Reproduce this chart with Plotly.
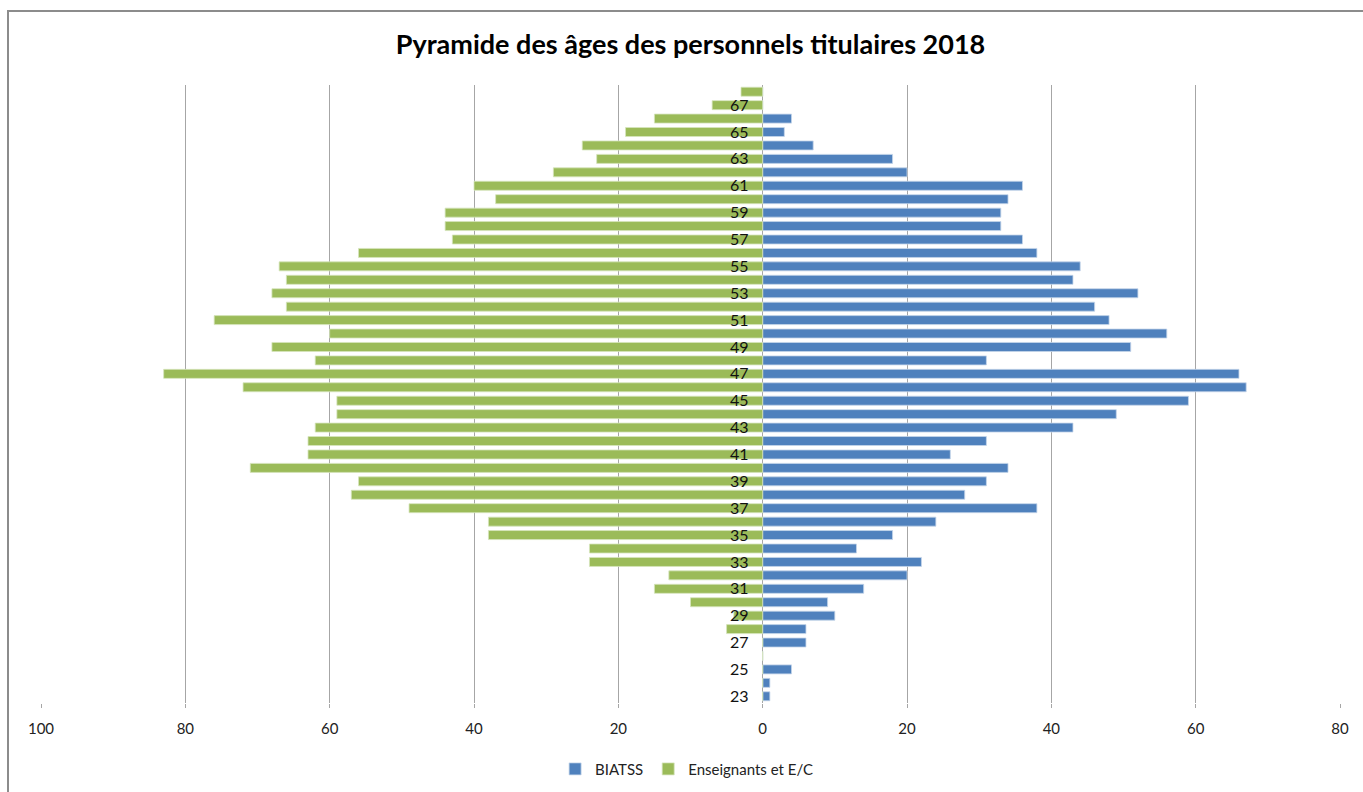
import plotly.graph_objects as go

# Age categories (one bar per age, 23 to 68)
ages = list(range(23, 69))

# Staff counts per age, BIATSS (right side)
biatss = [1, 1, 4, 0, 6, 6, 10, 9, 14, 20, 22, 13, 18, 24, 38, 28, 31, 34, 26, 31,
          43, 49, 59, 67, 66, 31, 51, 56, 48, 46, 52, 43, 44, 38, 36, 33, 33, 34,
          36, 20, 18, 7, 3, 4, 0, 0]

# Staff counts per age, teachers and teacher-researchers (left side)
enseignants = [0, 0, 0, 0, 0, 5, 4, 10, 15, 13, 24, 24, 38, 38, 49, 57, 56, 71, 63, 63,
               62, 59, 59, 72, 83, 62, 68, 60, 76, 66, 68, 66, 67, 56, 43, 44, 44, 37,
               40, 29, 23, 25, 19, 15, 7, 3]

# Axis labels
x_tick_vals = [-100, -80, -60, -40, -20, 0, 20, 40, 60, 80]
x_tick_text = [str(abs(v)) for v in x_tick_vals]
y_tick_vals = [a for a in ages if a % 2 == 1]

BLUE = "#4F81BD"
GREEN = "#9BBB59"
FONT = "Lato, 'Open Sans', sans-serif"

fig = go.Figure()
fig.add_trace(go.Bar(
    y=ages, x=biatss, orientation="h", name="BIATSS",
    marker=dict(color=BLUE, line=dict(color="#C5D5EA", width=0.8)),
    width=0.67,
))
fig.add_trace(go.Bar(
    y=ages, x=[-v for v in enseignants], orientation="h", name="Enseignants et E/C",
    marker=dict(color=GREEN, line=dict(color="#D6E4BC", width=0.8)),
    width=0.67,
    customdata=enseignants,
    hovertemplate="%{y}: %{customdata}<extra>Enseignants et E/C</extra>",
))

# position of x = 0 inside the plot area, used to place the age axis
x_min, x_max = -100, 80
zero_pos = (0 - x_min) / (x_max - x_min)

fig.update_layout(
    width=1363, height=792,
    barmode="overlay",
    paper_bgcolor="white", plot_bgcolor="white",
    margin=dict(l=41, r=23, t=85, b=89, autoexpand=False),
    font=dict(family=FONT, color="#000000"),
    title=dict(
        text="<b>Pyramide des âges des personnels titulaires 2018</b>",
        x=0.5, xref="paper", y=1 - 45 / 792, yanchor="middle",
        font=dict(size=27, family=FONT, color="#000000"),
    ),
    showlegend=True,
    legend=dict(
        orientation="h", x=0.497, xanchor="center", y=-0.107, yanchor="middle",
        font=dict(size=15, family=FONT, color="#222222"),
        itemwidth=30, tracegroupgap=0,
    ),
    xaxis=dict(
        range=[x_min, x_max],
        tickvals=x_tick_vals, ticktext=x_tick_text,
        showgrid=True, gridcolor="#A6A6A6", gridwidth=1,
        zeroline=True, zerolinecolor="#A6A6A6", zerolinewidth=1,
        showline=False,
        ticks="outside", ticklen=4, tickcolor="#A6A6A6",
        ticklabelstandoff=8,
        tickfont=dict(size=15, family=FONT, color="#222222"),
        fixedrange=True,
    ),
    yaxis=dict(
        range=[22.5, 68.5],
        tickvals=y_tick_vals,
        anchor="free", position=zero_pos,
        showgrid=False, zeroline=False, showline=False,
        ticks="", ticklabelstandoff=14,
        tickfont=dict(size=16, family=FONT, color="#111111"),
        fixedrange=True,
    ),
    shapes=[dict(
        type="rect", xref="paper", yref="paper",
        x0=(8 - 41) / 1299, x1=(1420 - 41) / 1299,
        y0=(703 - 850) / 618, y1=(703 - 11) / 618,
        line=dict(color="#8C8C8C", width=2), fillcolor="rgba(0,0,0,0)",
        layer="below",
    )],
)

fig.write_html("out.html")
